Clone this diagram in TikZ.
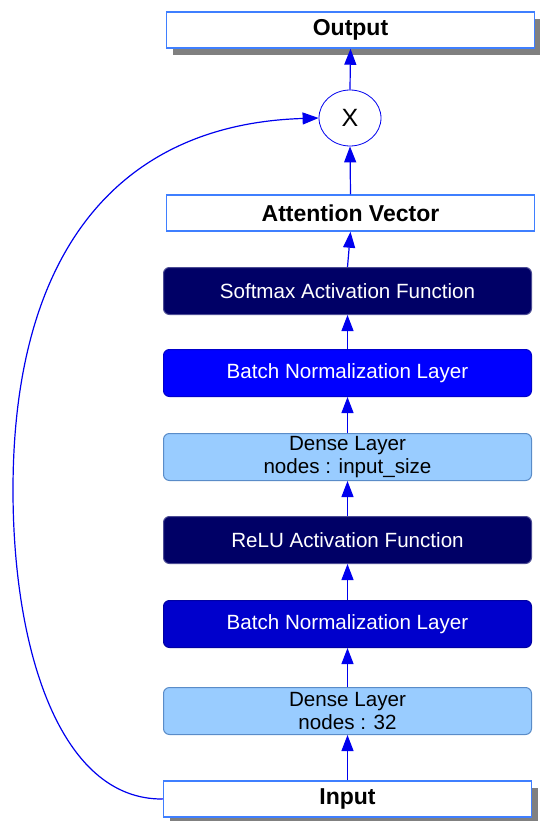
\documentclass[tikz,border=0pt]{standalone}
\usepackage{fontspec}
\setmainfont{Liberation Sans}
\usepackage{tikz}
\usetikzlibrary{shapes.geometric,shadows,arrows.meta}
\definecolor{navyfill}{HTML}{000066}
\definecolor{bluefill}{HTML}{0000FF}
\definecolor{midblue}{HTML}{0000CC}
\definecolor{paleblue}{HTML}{99CCFF}
\definecolor{paleedge}{HTML}{5A8CC8}
\definecolor{ioedge}{HTML}{3F7FFF}
\definecolor{shadowgray}{HTML}{808080}
\definecolor{linkblue}{HTML}{0000EE}
\tikzstyle{iobox}=[rectangle,draw=ioedge,fill=white,line width=1.5pt,
                   minimum width=368pt,minimum height=36pt,inner sep=0pt,
                   font=\fontsize{23}{26}\selectfont\bfseries]
\tikzstyle{layerbox}=[rectangle,rounded corners=6pt,line width=1pt,
                      minimum width=368pt,minimum height=47pt,inner sep=0pt,
                      align=center,font=\fontsize{20.6}{22.5}\selectfont]
\tikzstyle{darkbox}=[layerbox,draw=navyfill!70!white,fill=navyfill,text=white]
\tikzstyle{densebox}=[layerbox,draw=paleedge,fill=paleblue,text=black]
\tikzstyle{flow}=[draw=linkblue,line width=1.2pt,
                  -{Triangle[width=12pt,length=16pt]}]
\tikzstyle{boxshadow}=[drop shadow={shadow xshift=6pt,shadow yshift=-7pt,
                       fill=shadowgray,opacity=1}]

\begin{document}
\begin{tikzpicture}[x=1pt,y=-1pt]
    \useasboundingbox (0,0) rectangle (539,821);
    \node (outp)   at (350.5,  30) [iobox,boxshadow]{Output};
    \node (mul)    at (350,   118) [ellipse,draw=linkblue,line width=0.8pt,fill=white,
                                    minimum width=62pt,minimum height=56pt,
                                    font=\fontsize{25}{25}\selectfont]{X};
    \node (att)    at (350.5, 213) [iobox]{Attention Vector};
    \node (soft)   at (347.5, 291) [darkbox]{Softmax Activation Function};
    \node (bn1)    at (347.5, 373) [darkbox,fill=bluefill,draw=bluefill!80!black]{Batch Normalization Layer};
    \node (dense1) at (347.5, 457) [densebox]{Dense Layer\\nodes : input\_size};
    \node (relu)   at (347.5, 540) [darkbox]{ReLU Activation Function};
    \node (bn2)    at (347.5, 624) [darkbox,fill=midblue,draw=midblue!80!black]{Batch Normalization Layer};
    \node (dense2) at (347.5, 711) [densebox]{Dense Layer\\nodes : 32};
    \node (inp)    at (347.5, 799) [iobox,boxshadow]{Input};
    \draw[flow] (inp.north) -- (dense2.south);
    \draw[flow] (dense2.north) -- (bn2.south);
    \draw[flow] (bn2.north) -- (relu.south);
    \draw[flow] (relu.north) -- (dense1.south);
    \draw[flow] (dense1.north) -- (bn1.south);
    \draw[flow] (bn1.north) -- (soft.south);
    \draw[flow] (soft.north) -- (att.south);
    \draw[flow] (att.north) -- (mul.south);
    \draw[flow] (mul.north) -- (outp.south);
    % skip connection round the left side
    \draw[flow] (inp.west) .. controls (60,800) and (13,650) .. (13,490)
                           .. controls (13,250) and (120,124) .. (mul.west);
\end{tikzpicture}
\end{document}
